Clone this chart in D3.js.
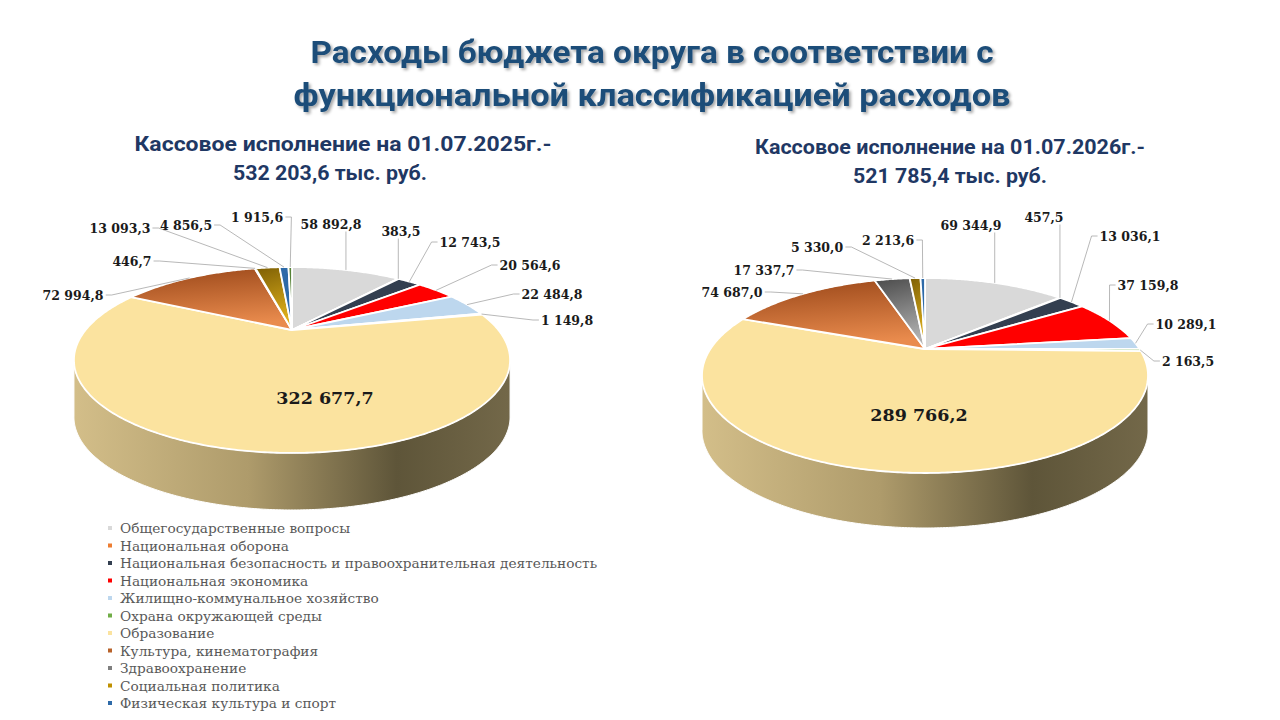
<!DOCTYPE html>
<html lang="ru">
<head>
<meta charset="UTF-8">
<title>Расходы бюджета округа</title>
<script src="https://d3js.org/d3.v7.min.js"></script>
<style>
  body { margin: 0; background: #fff; }
  svg { display: block; }
</style>
</head>
<body>
<div id="chart"></div>
<script>
// ---- data ----
var categories = [
  "Общегосударственные вопросы",
  "Национальная оборона",
  "Национальная безопасность и правоохранительная деятельность",
  "Национальная экономика",
  "Жилищно-коммунальное хозяйство",
  "Охрана окружающей среды",
  "Образование",
  "Культура, кинематография",
  "Здравоохранение",
  "Социальная политика",
  "Физическая культура и спорт",
  "Средства массовой информации"
];
var values2025 = [58892.8, 383.5, 12743.5, 20564.6, 22484.8, 1149.8, 322677.7, 72994.8, 446.7, 13093.3, 4856.5, 1915.6];
var values2026 = [69344.9, 457.5, 13036.1, 37159.8, 10289.1, 2163.5, 289766.2, 74687.0, 17337.7, 5330.0, 2213.6, 0];
var titleLines = ["Расходы бюджета округа в соответствии с", "функциональной классификацией расходов"];
var subtitle2025 = ["Кассовое исполнение на 01.07.2025г.-", "532 203,6 тыс. руб."];
var subtitle2026 = ["Кассовое исполнение на 01.07.2026г.-", "521 785,4 тыс. руб."];
var legendCount = 11; // the slide cuts the legend after 11 rows

// ---- styles ----
var colors = ["#d9d9d9", "#ed7d31", "#333f50", "#ff0000", "#bdd7ee", "#70ad47",
              "#fbe39f", "#b8622a", "#7f7f7f", "#bf9000", "#2e6aa8", "#548235"];
var gradStops = { 7: ["#9a4719", "#e98b4d"], 8: ["#4a4a4a", "#b3b3b3"], 9: ["#7d5f05", "#e3b31c"] };

// pie geometry (perspective ellipse) and label spots
var pies = [
  { id: "p25", values: values2025, cx: 292, cy: 330, A: 206.4, B: 83.3, k: 0.3226, h: 57,
    labels: [[331, 224], [401, 231], [470, 242], [530, 265], [552, 294], [567, 320],
             [325, 398], [73, 295], [132, 261], [120, 228], [186, 225], [257, 217]] },
  { id: "p26", values: values2026, cx: 925, cy: 349, A: 214.6, B: 90.3, k: 0.2717, h: 55,
    labels: [[971, 225], [1044, 217], [1130, 236], [1148, 285], [1186, 324], [1188, 361],
             [919, 415], [732, 292], [764, 270], [817, 247], [888, 240], null] }
];

var W = 1280, H = 720;
var svg = d3.select("#chart").append("svg").attr("width", W).attr("height", H);
var defs = svg.append("defs");

var ru = d3.formatLocale({ decimal: ",", thousands: " ", grouping: [3], currency: ["", ""] });
var fmt = ru.format(",.1f");

var shadow = defs.append("filter").attr("id", "tshadow")
  .attr("x", "-5%").attr("y", "-20%").attr("width", "110%").attr("height", "150%");
shadow.append("feDropShadow").attr("dx", 2).attr("dy", 2).attr("stdDeviation", 1.4)
  .attr("flood-color", "#000").attr("flood-opacity", 0.35);

Object.keys(gradStops).forEach(function (i) {
  var g = defs.append("linearGradient").attr("id", "g" + i)
    .attr("x1", 0).attr("y1", 0).attr("x2", 0.2).attr("y2", 1);
  g.append("stop").attr("offset", 0).attr("stop-color", gradStops[i][0]);
  g.append("stop").attr("offset", 1).attr("stop-color", gradStops[i][1]);
});

function fillFor(i) { return gradStops[i] ? "url(#g" + i + ")" : colors[i]; }

// ---- titles ----
svg.selectAll(".title").data(titleLines).enter().append("text")
  .attr("x", 652).attr("y", function (d, i) { return 63 + i * 43; })
  .attr("text-anchor", "middle")
  .attr("textLength", function (d, i) { return [683, 717][i]; })
  .attr("lengthAdjust", "spacingAndGlyphs")
  .style("font-family", "Roboto, sans-serif").style("font-weight", 700)
  .style("font-size", "32px").style("fill", "#1f4e79")
  .attr("filter", "url(#tshadow)")
  .text(function (d) { return d; });

function subtitle(lines, xs, y0, widths) {
  svg.append("g").selectAll("text").data(lines).enter().append("text")
    .attr("x", function (d, i) { return xs[i]; })
    .attr("y", function (d, i) { return y0 + i * 29; })
    .attr("text-anchor", "middle")
    .attr("textLength", function (d, i) { return widths[i]; })
    .attr("lengthAdjust", "spacingAndGlyphs")
    .style("font-family", "Roboto, sans-serif").style("font-weight", 700)
    .style("font-size", "20px").style("fill", "#1f3864")
    .text(function (d) { return d; });
}
subtitle(subtitle2025, [343, 330], 151, [417, 194]);
subtitle(subtitle2026, [950, 950], 154, [390, 194]);

// ---- pies ----
var pie = d3.pie().sort(null).value(function (d) { return d.value; });

pies.forEach(function (p) {
  var proj = function (a, r, dy) {
    var u = r * Math.sin(a), v = -r * Math.cos(a), w = 1 - p.k * v;
    return [p.cx + p.A * u / w, p.cy + p.B * v / w + (dy || 0)];
  };
  var front0 = Math.acos(-p.k), front1 = 2 * Math.PI - front0;
  var halfW = p.A / Math.sqrt(1 - p.k * p.k);

  var wg = defs.append("linearGradient").attr("id", "wall" + p.id)
    .attr("gradientUnits", "userSpaceOnUse")
    .attr("x1", p.cx - halfW).attr("x2", p.cx + halfW).attr("y1", 0).attr("y2", 0);
  [[0, "#d3be89"], [0.4, "#ae9b6b"], [0.74, "#5e5539"], [1, "#736849"]].forEach(function (s) {
    wg.append("stop").attr("offset", s[0]).attr("stop-color", s[1]);
  });

  var rows = categories.map(function (c, i) { return { name: c, value: p.values[i], i: i }; })
    .filter(function (d) { return d.value > 0; });
  var arcs = pie(rows);

  function topPath(a0, a1) {
    var n = Math.max(2, Math.ceil((a1 - a0) / 0.01)), pts = [proj(0, 0)];
    for (var j = 0; j <= n; j++) pts.push(proj(a0 + (a1 - a0) * j / n, 1));
    return "M" + pts.join("L") + "Z";
  }
  function wallPath(a0, a1) {
    var s = Math.max(a0, front0), e = Math.min(a1, front1);
    if (e <= s) return null;
    var n = Math.max(2, Math.ceil((e - s) / 0.01)), top = [], bot = [];
    for (var j = 0; j <= n; j++) {
      var a = s + (e - s) * j / n;
      top.push(proj(a, 1)); bot.push(proj(a, 1, p.h));
    }
    return "M" + top.join("L") + "L" + bot.reverse().join("L") + "Z";
  }

  var g = svg.append("g");
  // side walls
  g.selectAll(".wall").data(arcs.filter(function (d) { return wallPath(d.startAngle, d.endAngle); }))
    .enter().append("path")
    .attr("d", function (d) { return wallPath(d.startAngle, d.endAngle); })
    .attr("fill", function (d) { return d.data.i === 6 ? "url(#wall" + p.id + ")" : d3.color(colors[d.data.i]).darker(1.2); })
    .attr("stroke", "#fff").attr("stroke-width", 1);
  // top faces
  g.selectAll(".slice").data(arcs).enter().append("path")
    .attr("d", function (d) { return topPath(d.startAngle, d.endAngle); })
    .attr("fill", function (d) { return fillFor(d.data.i); })
    .attr("stroke", "#fff").attr("stroke-width", 1.8).attr("stroke-linejoin", "round");

  // labels + leader lines
  var lg = svg.append("g");
  arcs.forEach(function (d) {
    var pos = p.labels[d.data.i];
    if (!pos) return;
    var inside = d.data.i === 6;
    var t = lg.append("text").attr("x", pos[0]).attr("y", pos[1])
      .attr("text-anchor", "middle").attr("dominant-baseline", "central")
      .style("font-family", "'DejaVu Serif', serif").style("font-weight", 700)
      .style("font-size", inside ? "17.5px" : "12.5px").style("fill", "#1a1a1a")
      .text(fmt(d.data.value));
    if (inside) return;
    var bb = t.node().getBBox();
    var tp = proj((d.startAngle + d.endAngle) / 2, 1);
    var x0 = bb.x, x1 = bb.x + bb.width, yb = bb.y + bb.height, ym = bb.y + bb.height / 2;
    var pts;
    if (tp[1] > yb && tp[0] >= x0 - 6 && tp[0] <= x1 + 6) {
      var lx = Math.max(x0 + 2, Math.min(x1 - 2, tp[0]));
      pts = [[lx, yb], tp];
    } else if (tp[0] > x1) {
      pts = [[x1 + 2, ym], [x1 + 8, ym], tp];
    } else {
      pts = [[x0 - 2, ym], [x0 - 8, ym], tp];
    }
    lg.insert("path", "text").attr("d", d3.line()(pts))
      .attr("fill", "none").attr("stroke", "#a6a6a6").attr("stroke-width", 0.8);
  });
});

// ---- legend ----
var legend = svg.append("g").selectAll("g").data(categories.slice(0, legendCount)).enter().append("g")
  .attr("transform", function (d, i) { return "translate(110," + (528 + i * 17.5) + ")"; });
legend.append("rect").attr("x", -2).attr("y", -2).attr("width", 4).attr("height", 4)
  .attr("fill", function (d, i) { return colors[i]; });
legend.append("text").attr("x", 10).attr("dominant-baseline", "central")
  .style("font-family", "'DejaVu Serif', serif").style("font-size", "13.7px").style("fill", "#595959")
  .text(function (d) { return d; });
</script>
</body>
</html>
